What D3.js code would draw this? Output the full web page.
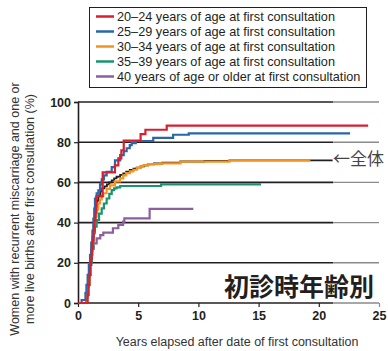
<!DOCTYPE html>
<html><head><meta charset="utf-8">
<script src="https://cdn.jsdelivr.net/npm/d3@7"></script>
<style>body{margin:0;background:#fff}svg{display:block}</style>
</head><body>
<svg id="c" width="388" height="351"></svg>
<script>
const legendLabels = [
  "20\u201324 years of age at first consultation",
  "25\u201329 years of age at first consultation",
  "30\u201334 years of age at first consultation",
  "35\u201339 years of age at first consultation",
  "40 years of age or older at first consultation"
];
const xTicks = [0,5,10,15,20,25];
const yTicks = [0,20,40,60,80,100];

const red20 = [[0,0],[0.72,0],[0.8,4],[0.87,9],[0.95,14],[1.02,19],[1.08,22],[1.15,27],[1.22,31],[1.3,36],[1.38,41],[1.46,45],[1.52,53],[2.05,65],[3.07,68.5],[3.35,72],[3.6,76],[3.8,80.8],[5.2,84],[5.6,86.2],[7.37,88.2],[24.1,88.2]];
const blue25 = [[0,0],[0.3,1.5],[0.55,1.5],[0.62,5],[0.7,9],[0.8,14],[0.9,19],[1.0,24],[1.1,30],[1.2,36],[1.28,42],[1.35,47],[1.41,52],[1.55,54.5],[1.69,56],[1.83,59],[1.97,61.5],[2.15,63.5],[2.38,65.3],[2.8,67.6],[3.07,71],[3.5,73.6],[3.8,75.5],[4.04,77],[4.3,78.5],[4.46,79.5],[4.8,80.6],[6.25,82.2],[7.9,83.7],[9.2,84.4],[22.6,84.4]];
const overall = [[0,0],[0.6,0],[0.7,3],[0.8,8],[0.9,13],[1.0,19],[1.1,26],[1.2,33],[1.3,39],[1.4,44],[1.5,48],[1.6,51],[1.7,53.5],[1.85,55.5],[2.0,57],[2.2,58],[2.4,59],[2.6,60],[2.8,61],[3.0,62],[3.2,62.8],[3.5,63.7],[3.76,64.5],[4.0,65.3],[4.3,66.2],[4.6,66.8],[4.87,67.3],[5.2,68],[5.5,68.5],[5.8,69],[6.3,69.4],[7,69.8],[8.5,70.4],[10.5,70.7],[12.6,71],[21.15,71]];
const orange30 = [[0,0],[0.65,0],[0.75,4],[0.85,9],[0.95,15],[1.05,22],[1.15,29],[1.25,35],[1.33,39],[1.41,43],[1.55,46.5],[1.69,49.6],[1.83,51.5],[1.97,53.3],[2.1,54.6],[2.38,56.8],[2.66,58.5],[3.07,60.5],[3.49,62],[3.76,63.5],[4.0,64.6],[4.32,65.5],[4.6,66.3],[4.9,67.2],[5.15,67.8],[5.42,68.5],[5.84,69.1],[6.8,69.5],[8.5,70.3],[12.57,71],[19.3,71]];
const green35 = [[0,0],[0.65,0],[0.75,4],[0.85,9],[0.95,14],[1.05,20],[1.15,27],[1.27,34.7],[1.4,38],[1.55,41.3],[1.75,44.5],[1.97,47.1],[2.15,49.5],[2.38,52],[2.6,54.3],[2.8,56.2],[3.0,57],[3.2,57.5],[3.5,58.2],[6.9,59],[15.2,59]];
const purple40 = [[0,0],[0.6,0],[0.7,4],[0.8,9],[0.9,14],[1.0,19],[1.1,24],[1.2,27],[1.3,29.7],[1.55,32.2],[1.85,33.8],[2.1,35],[2.9,37.2],[3.35,38.8],[3.75,40.5],[3.85,42.1],[5.95,46.8],[9.58,46.8]];

const colors = ["#d6202f","#2a66a9","#f39422","#1a9470","#8c5f9f"];
const darkGrid = "#231f20", lightGrid = "#8a8a8a";
const gridSplit = 21.2;

const svg = d3.select("#c");
const x = d3.scaleLinear().domain([0,25]).range([78,379]);
const y = d3.scaleLinear().domain([0,100]).range([303,102]);
const font = "'Liberation Sans', Arial, Helvetica, sans-serif";

// gridlines (split dark / light)
const gridVals = yTicks.filter(d=>d>0);
svg.append("g").selectAll("line.gd").data(gridVals).join("line")
  .attr("x1",x(0)).attr("x2",x(gridSplit)).attr("y1",d=>y(d)).attr("y2",d=>y(d))
  .attr("stroke",darkGrid).attr("stroke-width",1.6);
svg.append("g").selectAll("line.gl").data(gridVals).join("line")
  .attr("x1",x(gridSplit)).attr("x2",x(25)).attr("y1",d=>y(d)).attr("y2",d=>y(d))
  .attr("stroke",lightGrid).attr("stroke-width",1.4);

// x axis
const xAxis = svg.append("g").attr("transform",`translate(0,${y(0)})`)
  .call(d3.axisBottom(x).tickValues(xTicks).tickSize(4).tickPadding(4));
xAxis.select(".domain").remove();
xAxis.selectAll(".tick line").attr("stroke",(d)=>d>gridSplit?lightGrid:darkGrid).attr("stroke-width",1.2);
xAxis.selectAll(".tick text").attr("font-family",font).attr("font-size","12.5px").attr("font-weight","bold").attr("fill","#231f20");
svg.append("line").attr("x1",x(0)).attr("x2",x(gridSplit)).attr("y1",y(0)).attr("y2",y(0)).attr("stroke",darkGrid).attr("stroke-width",1.6);
svg.append("line").attr("x1",x(gridSplit)).attr("x2",x(25)).attr("y1",y(0)).attr("y2",y(0)).attr("stroke",lightGrid).attr("stroke-width",1.4);

// y axis
const yAxis = svg.append("g").attr("transform",`translate(${x(0)},0)`)
  .call(d3.axisLeft(y).tickValues(yTicks).tickSize(4).tickPadding(3));
yAxis.select(".domain").attr("stroke",darkGrid).attr("stroke-width",1.6);
yAxis.selectAll(".tick line").attr("stroke",darkGrid).attr("stroke-width",1.2);
yAxis.selectAll(".tick text").attr("font-family",font).attr("font-size","12.5px").attr("font-weight","bold").attr("fill","#231f20");

// curves
const line = d3.line().x(d=>x(d[0])).y(d=>y(d[1])).curve(d3.curveStepAfter);
const series = [
  {data:overall, color:darkGrid, w:1.8},
  {data:purple40, color:colors[4], w:2.2},
  {data:green35, color:colors[3], w:2.2},
  {data:orange30, color:colors[2], w:2.2},
  {data:blue25, color:colors[1], w:2.2},
  {data:red20, color:colors[0], w:2.2}
];
svg.append("g").selectAll("path").data(series).join("path")
  .attr("d",d=>line(d.data)).attr("fill","none")
  .attr("stroke",d=>d.color).attr("stroke-width",d=>d.w).attr("stroke-linejoin","miter");

// legend
const lg = svg.append("g");
lg.append("rect").attr("x",89.5).attr("y",7.5).attr("width",277).attr("height",80)
  .attr("fill","#fff").attr("stroke","#231f20").attr("stroke-width",1);
const le = lg.selectAll("g.e").data(legendLabels).join("g")
  .attr("transform",(d,i)=>`translate(0,${16.5+i*15})`);
le.append("line").attr("x1",96).attr("x2",114).attr("y1",0).attr("y2",0)
  .attr("stroke",(d,i)=>colors[i]).attr("stroke-width",2.5);
le.append("text").attr("x",117).attr("y",4.5).text(d=>d)
  .attr("font-family",font).attr("font-size","12.7px").attr("fill","#231f20");

// axis titles
svg.append("text").attr("x",237).attr("y",346).attr("text-anchor","middle")
  .attr("font-family",font).attr("font-size","12.5px").attr("fill","#333")
  .text("Years elapsed after date of first consultation");
const yt = svg.append("text").attr("transform","translate(0,209) rotate(-90)")
  .attr("text-anchor","middle").attr("font-family",font).attr("font-size","12.5px").attr("fill","#333");
yt.append("tspan").attr("x",0).attr("y",18.5).text("Women with recurrent miscarriage and one or");
yt.append("tspan").attr("x",0).attr("y",34).text("more live births after first consultation (%)");

// annotations
svg.append("text").attr("x",374).attr("y",296).attr("text-anchor","end")
  .attr("font-family","'Noto Sans CJK JP', sans-serif").attr("font-weight","bold")
  .attr("font-size","25px").attr("fill","#231f20").text("初診時年齢別");
svg.append("text").attr("x",333).attr("y",165)
  .attr("font-family","'Noto Sans CJK JP', sans-serif")
  .attr("font-size","17px").attr("fill","#444").text("←全体");
</script>
</body></html>
